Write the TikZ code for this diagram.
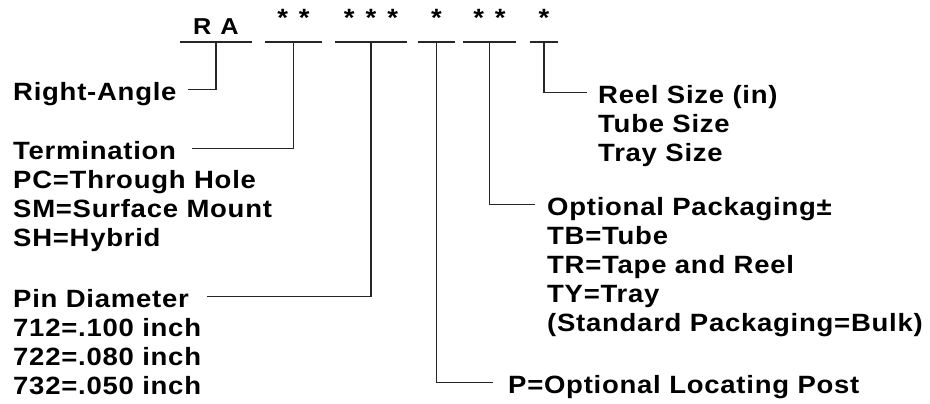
\documentclass[tikz,border=0pt]{standalone}
\usepackage{fontspec}
\setmainfont{Liberation Sans}[LetterSpace=3, FakeStretch=1.1]
\usepackage{tikz}

\begin{document}
\begin{tikzpicture}[x=1pt, y=-1pt,
		font=\bfseries\fontsize{25}{29}\selectfont,
		code/.style={inner sep=0pt, anchor=south, minimum width=#1, text depth=7pt, font=\bfseries\fontsize{23}{23}\selectfont},
		stars/.style={inner sep=0pt, anchor=south, minimum width=#1, text depth=15pt, font=\bfseries\fontsize{25}{25}\selectfont},
		hdr/.style={inner sep=0pt, anchor=base west, text height=21pt, text depth=0pt},
		info/.style={inner sep=0pt, anchor=base west, align=left},
		seg/.style={line width=1.8pt, draw=black!85},
		conn/.style={line width=1.8pt, draw=black!85}
	]
	\useasboundingbox (0,0) rectangle (930,404);

	% Part number fields
	\node[code=72pt] (cra) at (216,42) {R\hspace{9pt}A};
	\node[stars=57pt] (cterm) at (293.5,42) {*\hspace{11pt}*};
	\node[stars=72pt] (cpin) at (371,42) {*\hspace{11pt}*\hspace{11pt}*};
	\node[stars=37pt] (cpost) at (436.5,42) {*};
	\node[stars=53pt] (cpack) at (489.5,42) {*\hspace{11pt}*};
	\node[stars=28pt] (csize) at (544,42) {*};
	\foreach \c in {cra,cterm,cpin,cpost,cpack,csize}
		\draw[seg] (\c.south west) -- (\c.south east);

	% Left labels
	\node[hdr] (lra) at (13,100) {Right-Angle};
	\node[hdr] (lterm) at (13,159) {Termination};
	\node[info] (iterm) at (13,246) {PC=Through Hole\\SM=Surface Mount\\SH=Hybrid};
	\node[hdr] (lpin) at (13,307) {Pin Diameter};
	\node[info] (ipin) at (13,394) {712=.100 inch\\722=.080 inch\\732=.050 inch};

	% Right labels
	\node[hdr] (lsize) at (598,103) {Reel Size (in)};
	\node[info] (isize) at (598,161) {Tube Size\\Tray Size};
	\node[hdr] (lpack) at (547,215) {Optional Packaging±};
	\node[info] (ipack) at (547,331) {TB=Tube\\TR=Tape and Reel\\TY=Tray\\(Standard Packaging=Bulk)};
	\node[hdr] (lpost) at (508,393) {P=Optional Locating Post};

	% Leaders
	\draw[conn] ([xshift=11pt]lra.east) -| (cra.south);
	\draw[conn] ([xshift=16pt]lterm.east) -| (cterm.south);
	\draw[conn] ([xshift=18pt]lpin.east) -| (cpin.south);
	\draw[conn] (cpost.south) |- ([xshift=-15pt]lpost.west);
	\draw[conn] (cpack.south) |- ([xshift=-12pt]lpack.west);
	\draw[conn] (csize.south) |- ([xshift=-11pt]lsize.west);
\end{tikzpicture}
\end{document}
